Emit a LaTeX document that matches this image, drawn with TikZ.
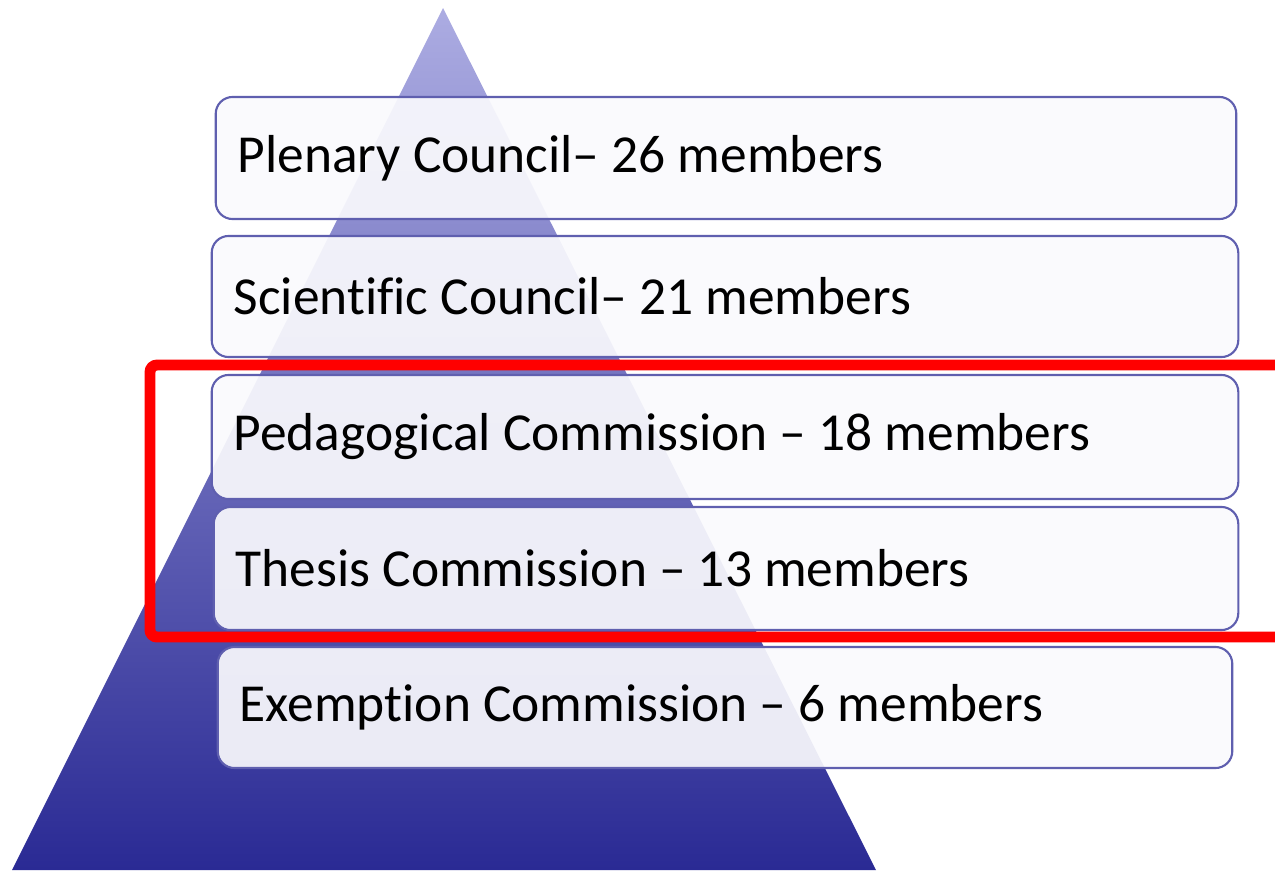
\documentclass[tikz,border=0pt]{standalone}
\usepackage{fontspec}
\setmainfont{Carlito}[Ligatures=NoCommon]
\usetikzlibrary{positioning}
\definecolor{triTop}{RGB}{172,172,226}
\definecolor{triBot}{RGB}{42,42,148}
\definecolor{tierLine}{RGB}{95,95,175}
\definecolor{tierFill}{RGB}{250,250,253}
\tikzset{
	tier/.style={
			draw=tierLine, line width=0.6pt, rounded corners=4.8pt,
			fill=tierFill, fill opacity=0.92, text opacity=1,
			align=flush left, inner xsep=0.22cm, inner ysep=0pt,
			font=\fontsize{15.2}{18}\selectfont
		}
}

\begin{document}
\begin{tikzpicture}[x=0.01cm,y=-0.01cm]
			\useasboundingbox (0,0) rectangle (1275,872);
			\clip (0,0) rectangle (1275,872);
			% pyramid
			\shade[top color=triTop, bottom color=triBot] (443,8) -- (876,870) -- (12,870) -- cycle;
			% tiers
			\node[tier, text width=9.76cm, minimum height=1.22cm] (plenary) at (726,158) {Plenary Council– 26 members};
			\node[tier, text width=9.82cm, minimum height=1.21cm] (scientific) at (725,296.5) {Scientific Council– 21 members};
			\node[tier, text width=9.82cm, minimum height=1.24cm] (pedagogical) at (725,437) {Pedagogical Commission – 18 members};
			\node[tier, text width=9.80cm, minimum height=1.23cm] (thesis) at (726,568.5) {Thesis Commission – 13 members};
			\node[tier, text width=9.70cm, minimum height=1.21cm] (exemption) at (725,707.5) {Exemption Commission – 6 members};
			% highlight
			\coordinate (hlTop) at (1280,365);
			\coordinate (hlBot) at (1280,637);
			\draw[red, line width=3.1pt, rounded corners=2pt] (hlTop) -- (150,365) -- (150,637) -- (hlBot);
		\end{tikzpicture}
\end{document}
